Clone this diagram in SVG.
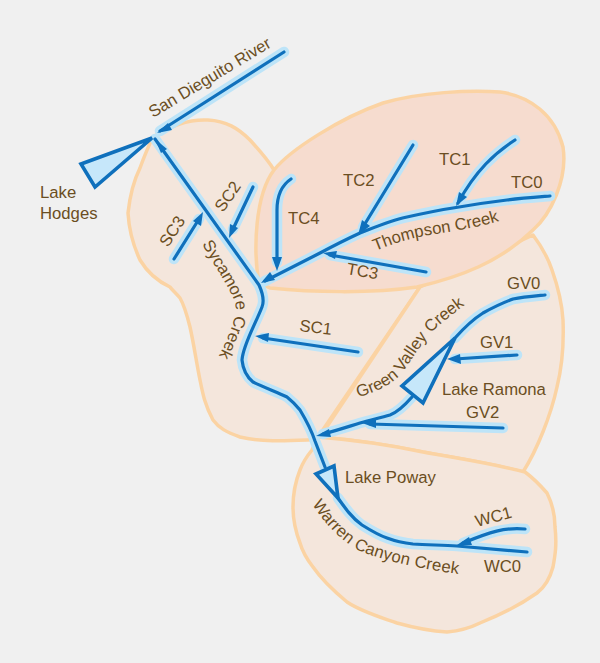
<svg xmlns="http://www.w3.org/2000/svg" width="600" height="663" viewBox="0 0 600 663">
<style>
.r{fill:#f4e6dc;stroke:#fbd3a3;stroke-width:3.5;stroke-linejoin:round}
.tc{fill:#f6dccf}
.g{fill:none;stroke:#bde4f8;stroke-width:10.5;stroke-linecap:round;stroke-linejoin:round}
.s{fill:none;stroke:#0f70bc;stroke-width:3.2;stroke-linecap:round;stroke-linejoin:round}
.l{fill:#c6e7fa;stroke:#0f70bc;stroke-width:3.6;stroke-linejoin:miter}
.a{fill:#0f70bc}
text{font-family:"Liberation Sans",Arial,sans-serif;font-size:16.7px;fill:#6b4e22}
</style>
<defs>
<path id="p-sd" d="M284 52L160 131"/>
<path id="p-sy" d="M155 139L259 285C264 296 264 302 262 307C255 325 243 345 242 360C243 370 247 377 253 382C265 388 277 392 287 397C292 401 296 405 300 410C306 420 312 432 315 441L325 467"/>
<path id="p-sc2" d="M253 187L233 229"/>
<path id="p-sc3" d="M174 259L199 219"/>
<path id="p-tc4" d="M291 179C282 185 277 195 277 210L277 262"/>
<path id="p-tc0" d="M265 281L320 253C335 245 347 239 360 233C378 226 392 220 407 217C425 213 440 210 453 208C470 205 490 202 507 200C522 198 537 197 550 196"/>
<path id="p-tc1" d="M515 140C495 153 476 170 458 203"/>
<path id="p-tc2" d="M413 145L363 227"/>
<path id="p-tc3" d="M426 272L330 255"/>
<path id="p-sc1" d="M358 352L263 338"/>
<path id="p-gv0" d="M545 295C535 296 523 297 513 299C502 303 492 308 483 313C472 320 463 329 455 338"/>
<path id="p-gv1" d="M517 355L455 359"/>
<path id="p-gv2" d="M503 428L370 424"/>
<path id="p-gv3" d="M412 397C405 405 398 412 390 415C380 418 370 420 360 423C347 427 335 431 323 434"/>
<path id="p-wc0" d="M338 498C345 508 352 518 362 525C370 530 378 535 387 538C395 541 404 543 413 544C428 545 442 545 457 546C480 548 503 550 527 552"/>
<path id="p-wc1" d="M525 529C505 527 490 532 463 543"/>
<path id="t-sy" d="M202 244C214 265 228 285 235 302C238 314 230 334 218 358"/>
<path id="t-gv" d="M358 397C375 393 392 385 403 372C413 358 422 342 435 329C446 319 458 310 472 300"/>
<path id="t-wc" d="M312 504C325 524 340 540 360 551C385 561 420 569 465 575"/>
<path id="t-tc" d="M375 251C395 243 410 238 430 235C455 231 480 227 502 220"/>
</defs>
<rect width="600" height="663" fill="#f0f0f0"/>
<g id="regions">
<path id="region-sc" class="r" d="M153 137C170 126 190 119 208 120C226 121 238 128 250 140C260 151 268 160 274 170L259 283L420 287L318 437C315 440 311 440 307 440C285 441 260 442 240 437C226 432 219 428 213 420C205 405 203 395 200 380C196 360 194 345 190 327C187 315 184 305 180 298C176 293 172 290 170 287C155 280 146 270 140 260C133 245 129 230 128 213C130 195 134 180 140 168C144 157 148 147 153 137Z"/>
<path id="region-gv" class="r" d="M420 287L533 235C542 247 548 258 552 270C558 287 562 303 563 320C564 345 562 367 557 387C551 415 537 450 523 472C490 463 455 458 423 452C390 445 355 440 320 437Z"/>
<path id="region-wc" class="r" d="M312 450L318 437C355 440 390 445 423 452C455 458 490 463 525 472C533 478 540 485 547 493C552 503 555 515 555 527C557 545 555 556 553 567C550 578 545 587 537 593C520 605 500 615 480 623C470 628 458 631 447 632C430 631 415 628 397 623C380 617 362 612 347 602C335 592 322 580 313 567C306 558 302 550 300 543C295 530 293 520 293 507C293 493 296 480 300 470C303 462 307 456 312 450Z"/>
<path id="region-tc" class="r tc" d="M274 170C290 150 340 118 383 103C420 92 470 90 500 92C530 96 555 115 563 147C568 180 550 215 533 230C500 262 460 277 417 287C370 294 310 292 270 288L259 283C253 250 255 195 274 170Z"/>
</g>
<g id="connectors">
<g id="halo" class="g">
<use href="#p-sd"/><use href="#p-sy"/><use href="#p-sc2"/><use href="#p-sc3"/><use href="#p-tc4"/><use href="#p-tc0"/><use href="#p-tc1"/><use href="#p-tc2"/><use href="#p-tc3"/><use href="#p-sc1"/><use href="#p-gv0"/><use href="#p-gv1"/><use href="#p-gv2"/><use href="#p-gv3"/><use href="#p-wc0"/><use href="#p-wc1"/>
</g>
<g id="streams" class="s">
<use href="#p-sd"/><use href="#p-sy"/><use href="#p-sc2"/><use href="#p-sc3"/><use href="#p-tc4"/><use href="#p-tc0"/><use href="#p-tc1"/><use href="#p-tc2"/><use href="#p-tc3"/><use href="#p-sc1"/><use href="#p-gv0"/><use href="#p-gv1"/><use href="#p-gv2"/><use href="#p-gv3"/><use href="#p-wc0"/><use href="#p-wc1"/>
</g>
<g id="arrowheads">
<path class="a" d="M157 133L168 123L172 130Z"/>
<path class="a" d="M155 139L167 149L161 153Z"/>
<path class="a" d="M229 238L230 224L238 228Z"/>
<path class="a" d="M203 212L201 226L193 221Z"/>
<path class="a" d="M277 271L272 257L282 257Z"/>
<path class="a" d="M261 283L270 272L275 280Z"/>
<path class="a" d="M358 235L362 220L370 226Z"/>
<path class="a" d="M323 253L337 251L335 259Z"/>
<path class="a" d="M456 206L459 192L467 197Z"/>
<path class="a" d="M255 336L269 333L268 342Z"/>
<path class="a" d="M447 359L460 354L461 364Z"/>
<path class="a" d="M362 423L376 419L376 428Z"/>
<path class="a" d="M316 436L329 429L331 437Z"/>
<path class="a" d="M457 545L469 537L472 545Z"/>
</g>
</g>
<g id="lake-hodges"><path class="l" d="M152 138L81 164L95 187Z"/><text x="40" y="198">Lake</text><text x="40" y="219">Hodges</text></g>
<g id="lake-ramona"><path class="l" d="M455 338L402 386L423 403Z"/><text x="442" y="395">Lake Ramona</text></g>
<g id="lake-poway"><path class="l" d="M316 474L334 466L338 498Z"/><text x="345" y="483">Lake Poway</text></g>
<g id="labels">
<text transform="translate(153 118) rotate(-31)">San Dieguito River</text>
<text transform="translate(223 213) rotate(-55)">SC2</text>
<text transform="translate(168 248) rotate(-57)">SC3</text>
<text><textPath href="#t-sy">Sycamore Creek</textPath></text>
<text x="288" y="224">TC4</text>
<text x="343" y="186">TC2</text>
<text x="439" y="165">TC1</text>
<text x="511" y="188">TC0</text>
<text><textPath href="#t-tc">Thompson Creek</textPath></text>
<text transform="translate(346 274) rotate(10)">TC3</text>
<text transform="translate(299 331) rotate(7)">SC1</text>
<text><textPath href="#t-gv">Green Valley Creek</textPath></text>
<text x="507" y="289">GV0</text>
<text x="480" y="348">GV1</text>
<text x="466" y="418">GV2</text>
<text transform="translate(477 527) rotate(-15)">WC1</text>
<text x="484" y="572">WC0</text>
<text letter-spacing="0.2"><textPath href="#t-wc">Warren Canyon Creek</textPath></text>
</g>
</svg>
